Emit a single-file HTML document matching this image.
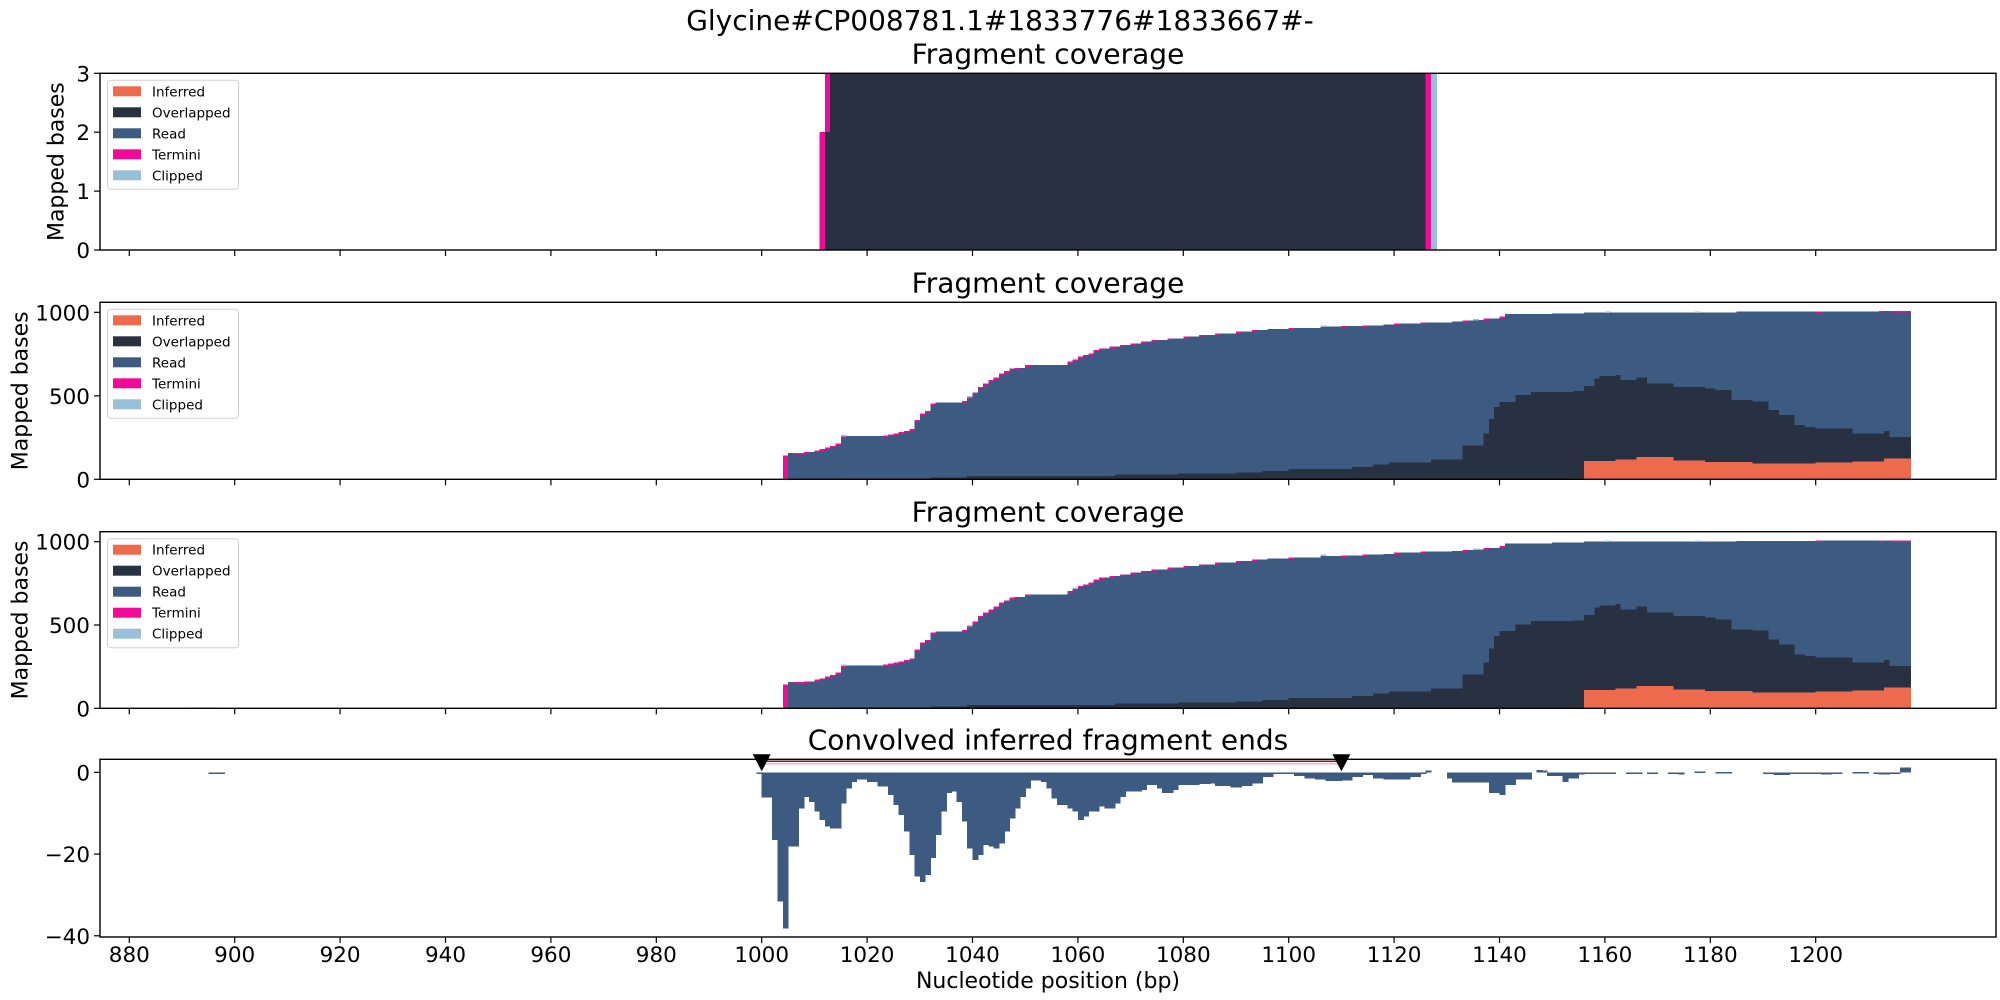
<!DOCTYPE html>
<html><head><meta charset="utf-8"><style>
html,body{margin:0;padding:0;background:#fff;}
svg{display:block;font-family:"DejaVu Sans","Liberation Sans",sans-serif;}
</style></head><body>
<svg id="fig" width="2000" height="1000" viewBox="0 0 2000 1000" xmlns="http://www.w3.org/2000/svg">
<rect width="2000" height="1000" fill="#fff"/>
<text x="1000" y="30" font-size="28" text-anchor="middle">Glycine#CP008781.1#1833776#1833667#-</text>
<text x="1048" y="988" font-size="22" text-anchor="middle">Nucleotide position (bp)</text>
</svg>
<script>
// ---- data: panel 1 (step arrays: value holds from x until next x) ----
const p1X = [1011, 1012, 1013, 1126, 1127, 1128];
const p1Ov = [0, 2, 3, 0, 0, 0];
const p1Term = [2, 1, 0, 3, 0, 0];
const p1Clip = [0, 0, 0, 0, 3, 0];
// ---- data: panels 2/3 ----
const totX = [1004,1005,1008,1010,1011,1012,1013,1014,1015,1023,1024,1025,1026,1027,1028,1029,1030,1031,1032,1033,1038,1039,1040,1041,1042,1043,1044,1045,1046,1047,1048,1050,1058,1059,1060,1061,1062,1063,1064,1066,1068,1070,1072,1074,1077,1080,1083,1086,1090,1093,1096,1100,1106,1110,1114,1118,1120,1125,1131,1133,1135,1137,1140,1141,1146,1150,1156,1170,1185,1200,1212,1218];
const totV = [144,158,162,172,180,190,200,214,258,262,268,274,282,290,300,354,394,410,454,460,470,494,520,554,574,594,610,634,648,664,668,684,704,718,734,744,754,774,784,794,804,814,824,834,844,854,864,874,884,894,900,906,914,918,922,926,934,940,944,950,954,962,974,990,990,994,1000,1000,1004,1006,1008,0];
const ovX = [1004,1015,1032,1039,1067,1079,1090,1095,1100,1112,1116,1119,1120,1127,1133,1137,1138,1139,1140,1143,1146,1156,1158,1159,1163,1168,1181,1184,1191,1193,1196,1198,1200,1207,1214,1218];
const ovV = [0,6,12,20,28,36,42,50,62,74,88,100,102,120,202,274,360,434,464,504,524,450,494,508,476,440,430,370,318,288,228,218,202,166,130,0];
const infX = [1004,1154,1156,1162,1166,1173,1179,1188,1200,1207,1213,1218];
const infV = [0,4,110,118,134,114,104,96,102,108,124,0];
const termX = [1004,1005,1006,1008,1009,1010,1011,1012,1013,1014,1015,1016,1023,1024,1025,1026,1027,1028,1029,1030,1031,1032,1033,1038,1039,1040,1041,1042,1043,1044,1045,1046,1047,1048,1049,1050,1051,1058,1059,1060,1061,1062,1063,1064,1065,1066,1067,1068,1069,1070,1071,1072,1073,1074,1075,1077,1078,1080,1081,1083,1084,1086,1087,1090,1091,1093,1094,1100,1101,1110,1111,1114,1115,1120,1121,1125,1126,1133,1134,1137,1138,1140,1141,1200,1201,1212,1213,1214];
const termV = [144,0,10,10,0,10,10,10,10,10,10,0,10,10,10,10,10,10,10,10,10,10,0,10,10,10,10,10,10,10,10,10,10,10,0,10,0,10,10,10,10,10,10,10,0,10,0,10,0,10,0,10,0,10,0,10,0,10,0,10,0,10,0,10,0,10,0,10,0,10,0,10,0,10,0,10,0,10,0,10,0,10,0,8,0,8,0,8];
const clipX = [1015,1016,1039,1040,1059,1060,1106,1107,1135,1136,1160,1161,1177,1178];
const clipV = [6,0,6,0,6,0,8,0,6,0,6,0,6,0];
const p3ExtraX = [891, 897];
const p3ExtraClip = [5, 0];
// ---- data: panel 4 convolved ends ----
const convX = [895,898,999,1000,1002,1003,1004,1005,1007,1008,1009,1010,1011,1012,1013,1015,1016,1017,1018,1020,1022,1024,1025,1026,1027,1028,1029,1030,1031,1032,1033,1034,1035,1036,1037,1038,1039,1040,1041,1042,1043,1044,1045,1046,1047,1048,1049,1050,1051,1053,1054,1055,1056,1058,1059,1060,1061,1062,1064,1065,1067,1068,1069,1072,1073,1075,1076,1078,1079,1083,1085,1086,1089,1091,1093,1095,1097,1101,1103,1105,1107,1110,1112,1114,1116,1118,1123,1125,1126,1127,1130,1131,1138,1140,1141,1143,1146,1147,1148,1149,1152,1153,1155,1156,1162,1164,1167,1168,1170,1172,1174,1175,1177,1179,1181,1184,1190,1192,1195,1197,1201,1203,1205,1207,1210,1211,1212,1214,1216,1218];
const convV = [-0.2,0,-0.3,-6.2,-16.6,-31.6,-38.2,-18.2,-8.8,-6,-7.2,-9.6,-11.7,-13.3,-13.7,-7.6,-3.9,-2.3,-1.7,-2.3,-3.5,-5.5,-8,-10.4,-14.5,-20.2,-25.5,-26.8,-25.1,-21,-15.3,-9.6,-5.1,-4.7,-7.2,-12,-18.6,-21.5,-20.2,-17.8,-18.2,-18.6,-17.4,-14.5,-11.3,-8.8,-6,-3.9,-2,-2.3,-3.9,-6.4,-8,-8.8,-9.6,-11.7,-10.8,-9.6,-8.4,-8.8,-7.6,-6,-4.7,-4.3,-3.1,-3.9,-5.1,-4.3,-3.1,-2.9,-2.7,-3.3,-3.7,-3.3,-2.7,-1.1,-0.4,-0.9,-1.5,-1.7,-2.1,-2,-1.1,-0.7,-1.5,-1.7,-1.1,-0.2,0.4,0,-1.5,-2.5,-5.1,-5.5,-3.1,-1.7,0,0.6,0.4,-0.9,-2.3,-1.5,-0.5,-0.1,0,-0.1,0,-0.05,0,-0.25,-0.5,0,0.2,0,0.1,0,-0.3,-0.7,-0.4,-0.35,-0.5,-0.25,0,0.1,0,-0.25,-0.5,-0.2,1.2,0];
const markerBp = [1000, 1110];
const xTicks = [880,900,920,940,960,980,1000,1020,1040,1060,1080,1100,1120,1140,1160,1180,1200];

const C = {inf:'#ee6a4d', ov:'#283142', read:'#3d5a80', term:'#f00a96', clip:'#98c1d9'};
const NS = 'http://www.w3.org/2000/svg';
const svg = document.getElementById('fig');
const AX_L = 100, AX_R = 1996;
const xs = bp => 129.3 + (bp - 880) * 5.27;
function step(X, V, bp){ let v = 0; for (let i = 0; i < X.length; i++){ if (X[i] <= bp) v = V[i]; else break; } return v; }
function el(tag, attrs, parent){ const e = document.createElementNS(NS, tag); for (const k in attrs) e.setAttribute(k, attrs[k]); (parent || svg).appendChild(e); return e; }

const panels = [
  {top:73.3, bot:250, ymin:0, ymax:3, ticks:[0,1,2,3], name:'panel-1'},
  {top:302.3, bot:479.3, ymin:0, ymax:1060, ticks:[0,500,1000], name:'panel-2'},
  {top:531.7, bot:708.3, ymin:0, ymax:1060, ticks:[0,500,1000], name:'panel-3'},
  {top:759.3, bot:937, ymin:-40.3, ymax:3.2, ticks:[-40,-20,0], name:'panel-4'}
];
panels.forEach(p => { p.ys = v => p.bot - (v - p.ymin) / (p.ymax - p.ymin) * (p.bot - p.top); });

function bar(g, p, bp, v0, v1, color){
  if (v1 === v0) return;
  const y0 = p.ys(v0), y1 = p.ys(v1);
  const r = el('rect', {x: xs(bp), y: Math.min(y0, y1), width: 5.9, height: Math.max(Math.abs(y1 - y0), 1.5), fill: color}, g);
  
  
}

// Panel 1
(function(){
  const p = panels[0];
  const g = el('g', {'shape-rendering': 'crispEdges'});
  
  
  for (let bp = p1X[0]; bp < p1X[p1X.length - 1]; bp++){
    const ov = step(p1X, p1Ov, bp), te = step(p1X, p1Term, bp), cl = step(p1X, p1Clip, bp);
    bar(g, p, bp, 0, ov, C.ov);
    bar(g, p, bp, ov, ov + te, C.term);
    bar(g, p, bp, ov + te, ov + te + cl, C.clip);
  }
})();

// Panels 2 & 3
[1, 2].forEach(pi => {
  const p = panels[pi];
  const g = el('g', {'shape-rendering': 'crispEdges'});
  
  
  if (pi === 2){
    for (let bp = p3ExtraX[0]; bp < p3ExtraX[p3ExtraX.length - 1]; bp++) bar(g, p, bp, 0, step(p3ExtraX, p3ExtraClip, bp), C.clip);
  }
  for (let bp = totX[0]; bp < totX[totX.length - 1]; bp++){
    const tot = step(totX, totV, bp), inf = step(infX, infV, bp), ov = step(ovX, ovV, bp);
    const te = step(termX, termV, bp), cl = step(clipX, clipV, bp);
    const rd = Math.max(0, tot - inf - ov - te);
    bar(g, p, bp, 0, inf, C.inf);
    bar(g, p, bp, inf, inf + ov, C.ov);
    bar(g, p, bp, inf + ov, inf + ov + rd, C.read);
    bar(g, p, bp, inf + ov + rd, inf + ov + rd + te, C.term);
    bar(g, p, bp, inf + ov + rd + te, inf + ov + rd + te + cl, C.clip);
  }
});

// Panel 4
(function(){
  const p = panels[3];
  const g = el('g', {'shape-rendering': 'crispEdges'});
  
  
  for (let bp = convX[0]; bp < convX[convX.length - 1]; bp++){
    const v = step(convX, convV, bp);
    if (v !== 0) bar(g, p, bp, 0, v, C.read);
  }
  const yl = p.top + 2;
  const l1 = el('line', {x1: xs(markerBp[0]), x2: xs(markerBp[1]), y1: yl, y2: yl, stroke: '#8b1a1a', 'stroke-width': 1.5});
  
  
  const l2 = el('line', {x1: xs(markerBp[0]), x2: xs(markerBp[1]), y1: yl + 2.5, y2: yl + 2.5, stroke: '#e7a0a0', 'stroke-width': 1.2});
  
  
  markerBp.forEach(b => {
    const cx = xs(b);
    const t = el('polygon', {points: `${cx - 9},${p.top - 5} ${cx + 9},${p.top - 5} ${cx},${p.top + 12}`, fill: '#000'});
    
    
  });
})();

// Axes, ticks, titles, legends
const titles = ['Fragment coverage', 'Fragment coverage', 'Fragment coverage', 'Convolved inferred fragment ends'];
panels.forEach((p, i) => {
  const fr = el('rect', {x: AX_L, y: p.top, width: AX_R - AX_L, height: p.bot - p.top, fill: 'none', stroke: '#000', 'stroke-width': 1.4});
  
  
  const tt = el('text', {x: 1048, y: p.top - 10, 'font-size': 28, 'text-anchor': 'middle'});
  tt.textContent = titles[i];
  
  
  p.ticks.forEach(v => {
    const y = p.ys(v);
    el('line', {x1: AX_L - 6, x2: AX_L, y1: y, y2: y, stroke: '#000', 'stroke-width': 1.2});
    const t = el('text', {x: AX_L - 10, y: y + 8, 'font-size': 21.5, 'text-anchor': 'end'});
    t.textContent = v < 0 ? '\u2212' + Math.abs(v) : String(v);
    
    
  });
  xTicks.forEach(v => {
    const x = xs(v);
    el('line', {x1: x, x2: x, y1: p.bot, y2: p.bot + 6, stroke: '#000', 'stroke-width': 1.2});
    if (i === 3){
      const t = el('text', {x: x, y: 962, 'font-size': 21.5, 'text-anchor': 'middle'});
      t.textContent = v;
      
      
    }
  });
  if (i < 3){
    const cx = i === 0 ? 57 : 21, cy = (p.top + p.bot) / 2;
    const yl = el('text', {x: cx, y: cy, 'font-size': 22, 'text-anchor': 'middle', 'dominant-baseline': 'central', transform: `rotate(-90 ${cx} ${cy})`});
    yl.textContent = 'Mapped bases';
    
    
    const lg = el('g', {});
    
    
    el('rect', {x: 107.5, y: p.top + 7, width: 131, height: 109, rx: 3, fill: '#fff', 'fill-opacity': 0.8, stroke: '#d0d0d0', 'stroke-width': 1}, lg);
    [['Inferred', C.inf], ['Overlapped', C.ov], ['Read', C.read], ['Termini', C.term], ['Clipped', C.clip]].forEach((e, k) => {
      const y = p.top + 13 + k * 21;
      const ent = el('g', {}, lg);
      
      
      el('rect', {x: 113, y: y, width: 28, height: 10, fill: e[1]}, ent);
      const t = el('text', {x: 152, y: y + 10, 'font-size': 13.5}, ent);
      t.textContent = e[0];
    });
  }
});
</script>
</body></html>
